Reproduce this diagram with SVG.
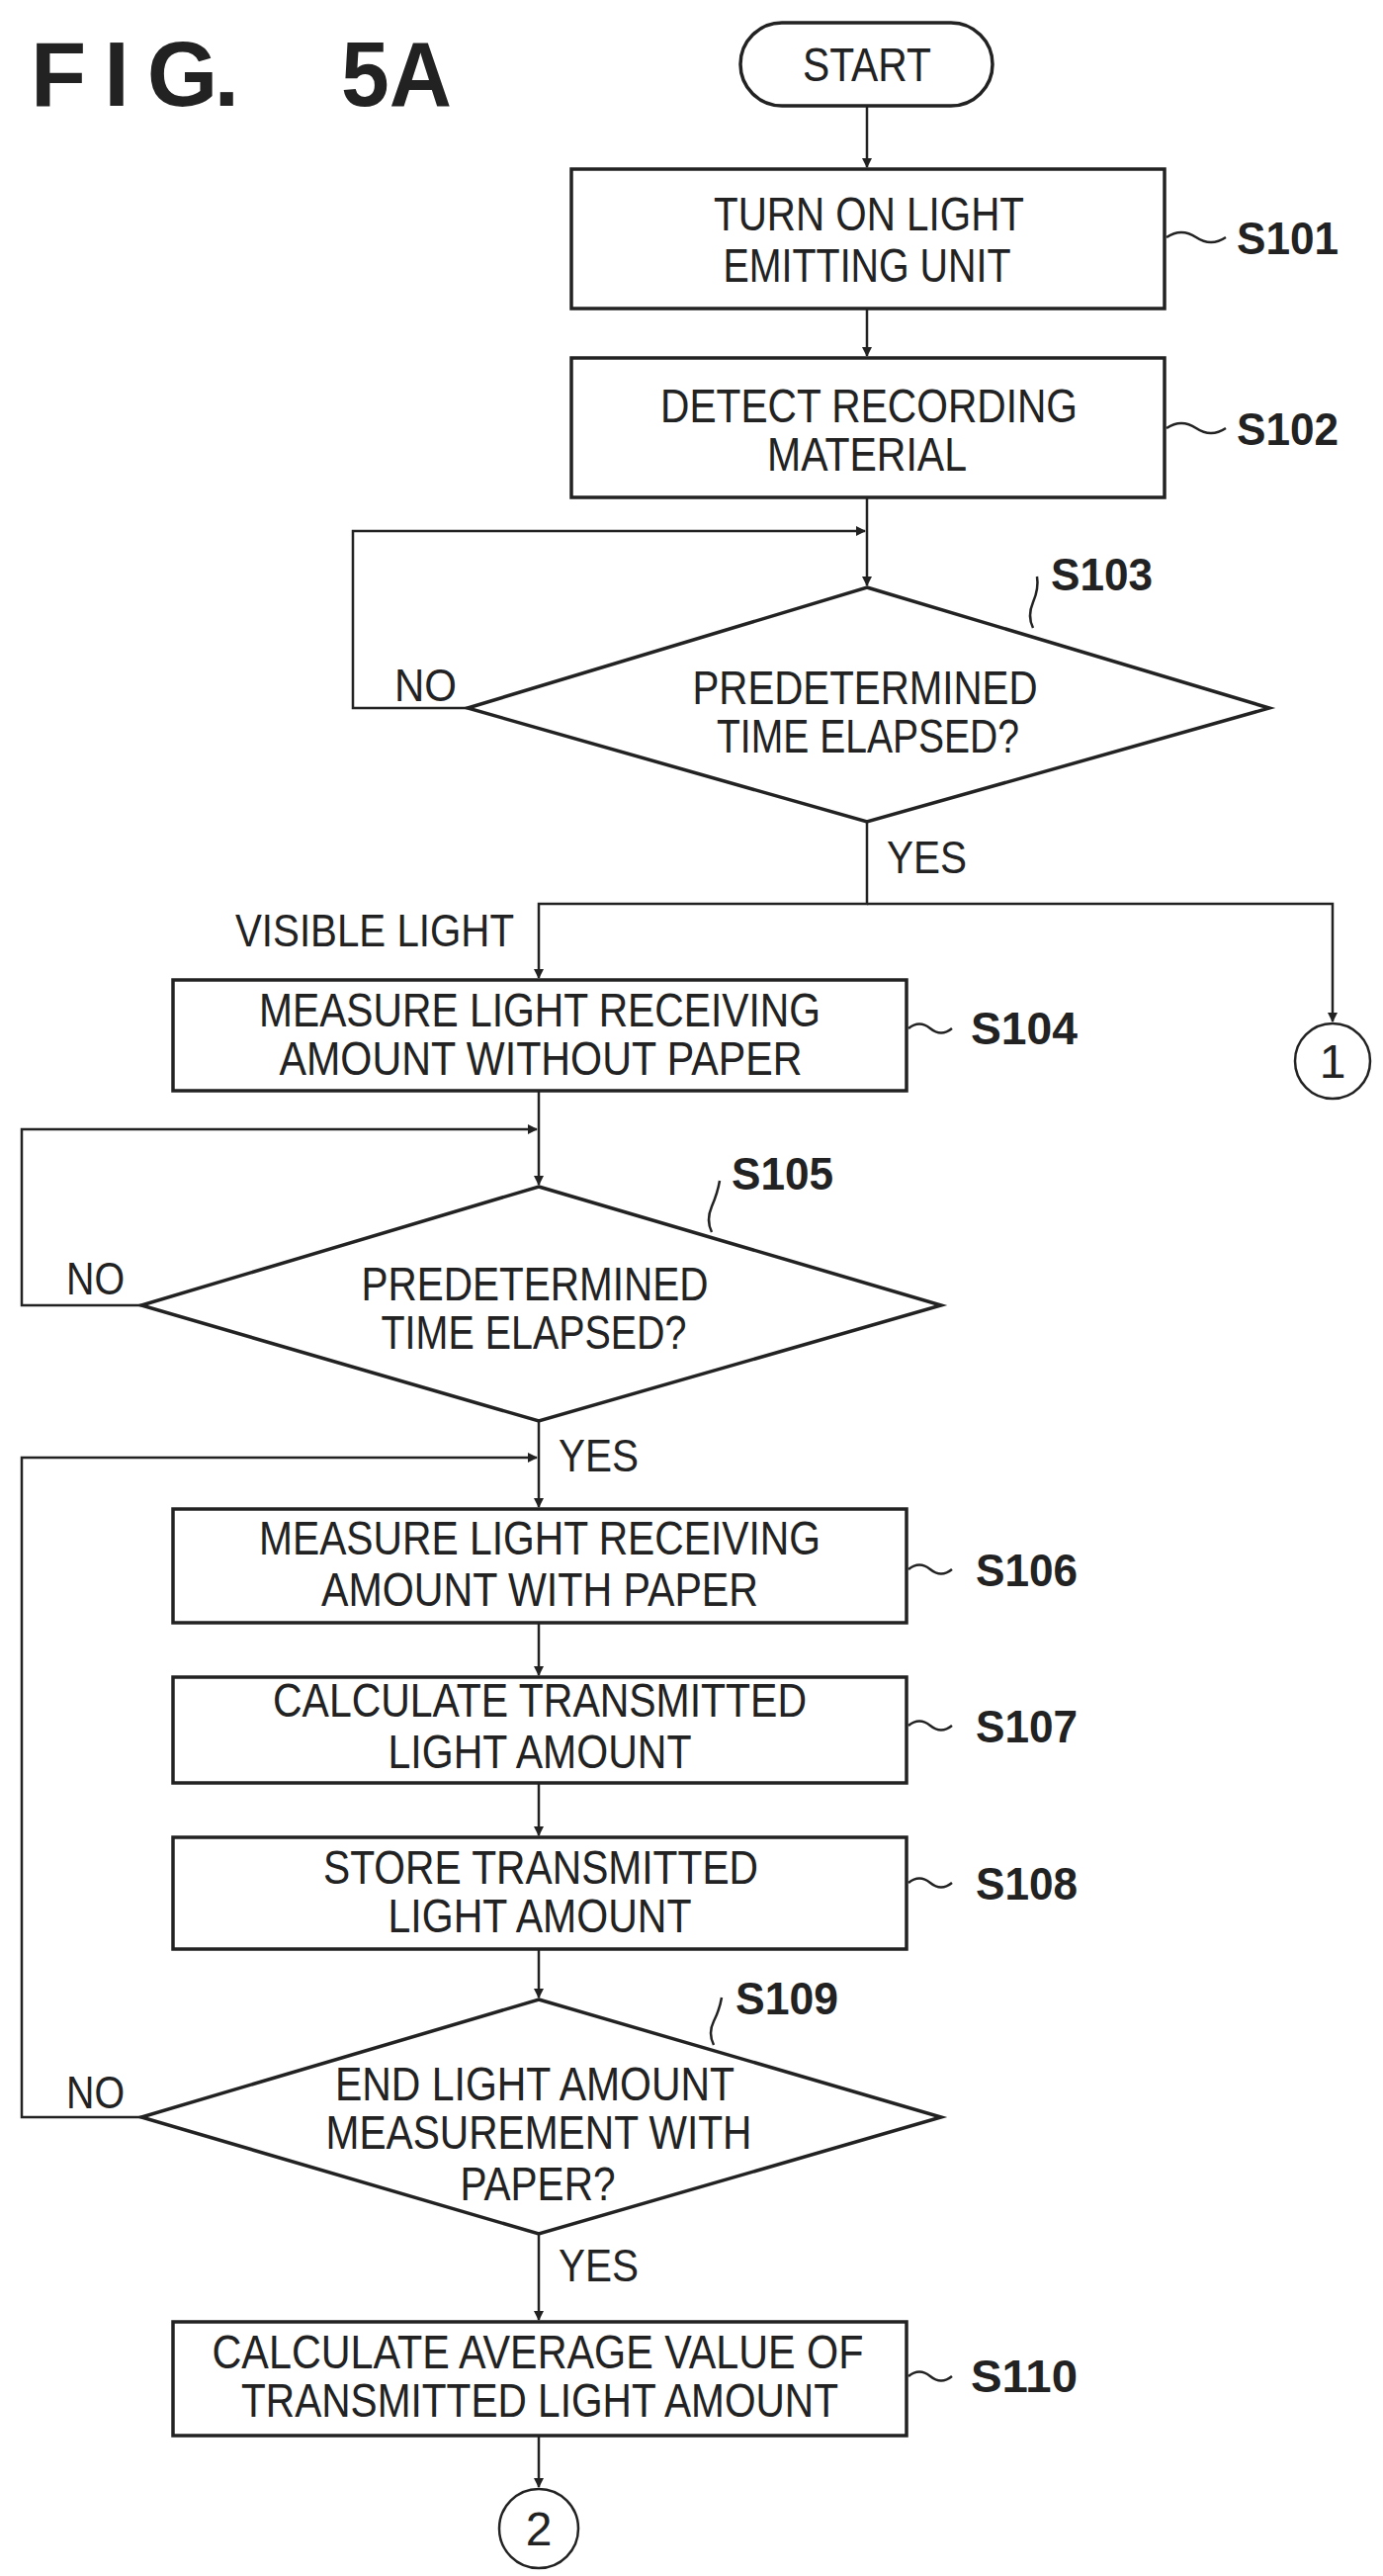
<svg xmlns="http://www.w3.org/2000/svg" width="1399" height="2605" viewBox="0 0 1399 2605">
<style>
.b{fill:#fff;stroke:#222;stroke-width:3.5}
.c{fill:none;stroke:#222;stroke-width:2.5}
.t{font-family:"Liberation Sans",Arial,sans-serif;font-size:48px;fill:#222;text-anchor:middle}
.l{font-family:"Liberation Sans",Arial,sans-serif;font-size:46px;font-weight:bold;fill:#222}
.n{font-family:"Liberation Sans",Arial,sans-serif;font-size:46px;fill:#222}
.h{font-family:"Liberation Sans",Arial,sans-serif;font-size:92px;font-weight:bold;fill:#222}
</style>
<defs><marker id="a" markerWidth="10" markerHeight="10" refX="9" refY="5" orient="auto" markerUnits="userSpaceOnUse"><path d="M0,0 L10,5 L0,10 z" fill="#222"/></marker></defs>
<text class="h" x="31" y="107" textLength="211" lengthAdjust="spacing">F I G.</text>
<text class="h" x="345" y="107" textLength="112" lengthAdjust="spacingAndGlyphs">5A</text>
<g id="connectors">
<path class="c" d="M877,107 V169" marker-end="url(#a)"/>
<path class="c" d="M877,312 V360" marker-end="url(#a)"/>
<path class="c" d="M877,503 V592" marker-end="url(#a)"/>
<path class="c" d="M473,716 H357 V537 H875" marker-end="url(#a)"/>
<path class="c" d="M877,831 V914 H545 V989" marker-end="url(#a)"/>
<path class="c" d="M877,914 H1348 V1033" marker-end="url(#a)"/>
<path class="c" d="M545,1103 V1198" marker-end="url(#a)"/>
<path class="c" d="M143,1320 H22 V1142 H543" marker-end="url(#a)"/>
<path class="c" d="M545,1437 V1524" marker-end="url(#a)"/>
<path class="c" d="M143,2141 H22 V1474 H543" marker-end="url(#a)"/>
<path class="c" d="M545,1641 V1694" marker-end="url(#a)"/>
<path class="c" d="M545,1803 V1856" marker-end="url(#a)"/>
<path class="c" d="M545,1971 V2020" marker-end="url(#a)"/>
<path class="c" d="M545,2259 V2346" marker-end="url(#a)"/>
<path class="c" d="M545,2463 V2515" marker-end="url(#a)"/>
</g>
<g id="start"><rect class="b" x="749" y="23" width="255" height="84" rx="42"/><text class="t" x="877" y="82" textLength="130" lengthAdjust="spacingAndGlyphs">START</text></g>
<g id="S101"><rect class="b" x="578" y="171" width="600" height="141"/>
<text class="t" x="879" y="233" textLength="314" lengthAdjust="spacingAndGlyphs">TURN ON LIGHT</text>
<text class="t" x="877" y="285" textLength="291" lengthAdjust="spacingAndGlyphs">EMITTING UNIT</text>
<path class="c" d="M1180,240 q15,-10 30,0 t30,0"/><text class="l" x="1251" y="257" textLength="103" lengthAdjust="spacingAndGlyphs">S101</text></g>
<g id="S102"><rect class="b" x="578" y="362" width="600" height="141"/>
<text class="t" x="879" y="427" textLength="422" lengthAdjust="spacingAndGlyphs">DETECT RECORDING</text>
<text class="t" x="877" y="476" textLength="202" lengthAdjust="spacingAndGlyphs">MATERIAL</text>
<path class="c" d="M1180,433 q15,-10 30,0 t30,0"/><text class="l" x="1251" y="450" textLength="103" lengthAdjust="spacingAndGlyphs">S102</text></g>
<g id="S103"><polygon class="b" points="877,594 1284,716 877,831 473,716"/>
<text class="t" x="875" y="712" textLength="349" lengthAdjust="spacingAndGlyphs">PREDETERMINED</text>
<text class="t" x="878" y="761" textLength="306" lengthAdjust="spacingAndGlyphs">TIME ELAPSED?</text>
<path class="c" d="M1045,635 q-6,-12 0,-26 t4,-26"/><text class="l" x="1063" y="597" textLength="103" lengthAdjust="spacingAndGlyphs">S103</text>
<text class="n" x="399" y="709" textLength="63" lengthAdjust="spacingAndGlyphs">NO</text>
<text class="n" x="897" y="883" textLength="81" lengthAdjust="spacingAndGlyphs">YES</text></g>
<text class="n" x="238" y="957" textLength="282" lengthAdjust="spacingAndGlyphs">VISIBLE LIGHT</text>
<g id="c1"><circle class="b" cx="1348" cy="1073" r="38" style="stroke-width:2.5"/><text class="t" x="1348" y="1090">1</text></g>
<g id="S104"><rect class="b" x="175" y="991" width="742" height="112"/>
<text class="t" x="546" y="1038" textLength="568" lengthAdjust="spacingAndGlyphs">MEASURE LIGHT RECEIVING</text>
<text class="t" x="547" y="1087" textLength="529" lengthAdjust="spacingAndGlyphs">AMOUNT WITHOUT PAPER</text>
<path class="c" d="M919,1040 q11,-9 22,0 t22,0"/><text class="l" x="982" y="1056" textLength="108" lengthAdjust="spacingAndGlyphs">S104</text></g>
<g id="S105"><polygon class="b" points="545,1200 952,1320 545,1437 143,1320"/>
<text class="t" x="541" y="1315" textLength="351" lengthAdjust="spacingAndGlyphs">PREDETERMINED</text>
<text class="t" x="540" y="1364" textLength="309" lengthAdjust="spacingAndGlyphs">TIME ELAPSED?</text>
<path class="c" d="M720,1246 q-6,-12 0,-26 t8,-26"/><text class="l" x="740" y="1203" textLength="103" lengthAdjust="spacingAndGlyphs">S105</text>
<text class="n" x="67" y="1309" textLength="59" lengthAdjust="spacingAndGlyphs">NO</text>
<text class="n" x="565" y="1488" textLength="81" lengthAdjust="spacingAndGlyphs">YES</text></g>
<g id="S106"><rect class="b" x="175" y="1526" width="742" height="115"/>
<text class="t" x="546" y="1572" textLength="568" lengthAdjust="spacingAndGlyphs">MEASURE LIGHT RECEIVING</text>
<text class="t" x="546" y="1624" textLength="442" lengthAdjust="spacingAndGlyphs">AMOUNT WITH PAPER</text>
<path class="c" d="M919,1587 q11,-9 22,0 t22,0"/><text class="l" x="987" y="1604" textLength="103" lengthAdjust="spacingAndGlyphs">S106</text></g>
<g id="S107"><rect class="b" x="175" y="1696" width="742" height="107"/>
<text class="t" x="546" y="1736" textLength="540" lengthAdjust="spacingAndGlyphs">CALCULATE TRANSMITTED</text>
<text class="t" x="546" y="1788" textLength="307" lengthAdjust="spacingAndGlyphs">LIGHT AMOUNT</text>
<path class="c" d="M919,1745 q11,-9 22,0 t22,0"/><text class="l" x="987" y="1762" textLength="103" lengthAdjust="spacingAndGlyphs">S107</text></g>
<g id="S108"><rect class="b" x="175" y="1858" width="742" height="113"/>
<text class="t" x="547" y="1905" textLength="440" lengthAdjust="spacingAndGlyphs">STORE TRANSMITTED</text>
<text class="t" x="546" y="1954" textLength="307" lengthAdjust="spacingAndGlyphs">LIGHT AMOUNT</text>
<path class="c" d="M919,1904 q11,-9 22,0 t22,0"/><text class="l" x="987" y="1921" textLength="103" lengthAdjust="spacingAndGlyphs">S108</text></g>
<g id="S109"><polygon class="b" points="545,2022 952,2141 545,2259 143,2141"/>
<text class="t" x="541" y="2124" textLength="404" lengthAdjust="spacingAndGlyphs">END LIGHT AMOUNT</text>
<text class="t" x="545" y="2173" textLength="431" lengthAdjust="spacingAndGlyphs">MEASUREMENT WITH</text>
<text class="t" x="544" y="2225" textLength="157" lengthAdjust="spacingAndGlyphs">PAPER?</text>
<path class="c" d="M722,2068 q-6,-12 0,-24 t8,-24"/><text class="l" x="744" y="2037" textLength="104" lengthAdjust="spacingAndGlyphs">S109</text>
<text class="n" x="67" y="2132" textLength="59" lengthAdjust="spacingAndGlyphs">NO</text>
<text class="n" x="565" y="2307" textLength="81" lengthAdjust="spacingAndGlyphs">YES</text></g>
<g id="S110"><rect class="b" x="175" y="2348" width="742" height="115"/>
<text class="t" x="544" y="2395" textLength="659" lengthAdjust="spacingAndGlyphs">CALCULATE AVERAGE VALUE OF</text>
<text class="t" x="546" y="2444" textLength="604" lengthAdjust="spacingAndGlyphs">TRANSMITTED LIGHT AMOUNT</text>
<path class="c" d="M919,2403 q11,-9 22,0 t22,0"/><text class="l" x="982" y="2419" textLength="108" lengthAdjust="spacingAndGlyphs">S110</text></g>
<g id="c2"><circle class="b" cx="545" cy="2557" r="40" style="stroke-width:2.5"/><text class="t" x="545" y="2574">2</text></g>
</svg>
